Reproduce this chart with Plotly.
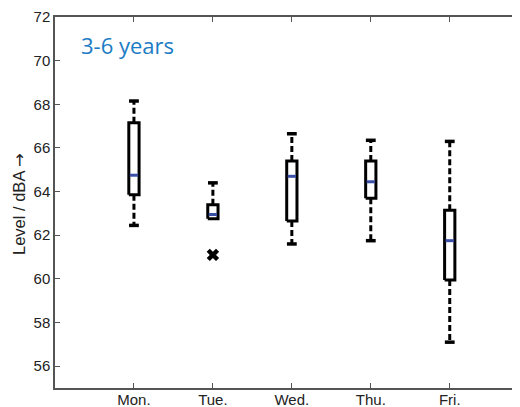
import plotly.graph_objects as go

days = ["Mon.", "Tue.", "Wed.", "Thu.", "Fri."]
lower_whisker = [62.45, 62.75, 61.6, 61.75, 57.1]
q1 = [63.85, 62.75, 62.65, 63.7, 59.95]
median = [64.75, 62.95, 64.7, 64.45, 61.75]
q3 = [67.15, 63.4, 65.4, 65.4, 63.15]
upper_whisker = [68.15, 64.4, 66.65, 66.35, 66.3]
outlier_day = ["Tue."]
outlier_value = [61.1]
y_ticks = [56, 58, 60, 62, 64, 66, 68, 70, 72]

pos = {d: i + 1 for i, d in enumerate(days)}
hw = 0.065  # half box width in category units

fig = go.Figure()
for i, d in enumerate(days):
    x0 = pos[d]
    fig.add_trace(go.Scatter(x=[x0, x0], y=[q3[i], upper_whisker[i]], mode="lines",
                             line=dict(color="black", width=3, dash="6px,3px"), showlegend=False, hoverinfo="skip"))
    if lower_whisker[i] < q1[i]:
        fig.add_trace(go.Scatter(x=[x0, x0], y=[q1[i], lower_whisker[i]], mode="lines",
                                 line=dict(color="black", width=3, dash="6px,3px"), showlegend=False, hoverinfo="skip"))
    caps_y = [upper_whisker[i]] + ([lower_whisker[i]] if lower_whisker[i] < q1[i] else [])
    fig.add_trace(go.Scatter(x=[x0] * len(caps_y), y=caps_y, mode="markers",
                             marker=dict(symbol="line-ew", size=7, line=dict(color="black", width=3.5)),
                             showlegend=False, hoverinfo="skip"))
    fig.add_trace(go.Scatter(x=[x0 - hw, x0 + hw, x0 + hw, x0 - hw, x0 - hw],
                             y=[q1[i], q1[i], q3[i], q3[i], q1[i]], mode="lines",
                             fill="toself", fillcolor="white",
                             line=dict(color="black", width=3), showlegend=False, hoverinfo="skip"))
    fig.add_trace(go.Scatter(x=[x0 - hw + 0.012, x0 + hw - 0.012], y=[median[i], median[i]], mode="lines",
                             line=dict(color="#3a4fa6", width=3), showlegend=False, hoverinfo="skip"))

fig.add_trace(go.Scatter(x=[pos[d] for d in outlier_day], y=outlier_value, mode="markers",
                         marker=dict(symbol="x", size=11, color="black", line=dict(width=0)),
                         showlegend=False, hoverinfo="skip"))

axis_font = dict(family="Liberation Sans, Arial, sans-serif", size=15, color="#222222")
# page body has an 8px margin; plot area target: x 55..520, y 17..388 in window pixels
fig.update_layout(
    width=512, height=399,
    margin=dict(l=47, r=0, t=9, b=19, autoexpand=False),
    paper_bgcolor="white", plot_bgcolor="white",
    xaxis=dict(range=[0, 5.89], tickmode="array", tickvals=[pos[d] for d in days], ticktext=days,
               showgrid=False, zeroline=False, showline=True, linecolor="#555555", linewidth=1.5,
               mirror="ticks", ticks="inside", ticklen=5, tickcolor="#555555", tickwidth=1.2,
               tickfont=axis_font, automargin=False, ticklabelstandoff=-3),
    yaxis=dict(range=[55, 72], tickmode="array", tickvals=y_ticks,
               showgrid=False, zeroline=False, showline=True, linecolor="#555555", linewidth=1.5,
               mirror=False, ticks="inside", ticklen=5, tickcolor="#555555", tickwidth=1.2,
               tickfont=axis_font, automargin=False),
    annotations=[
        dict(text="3-6 years", xref="paper", yref="paper", x=(79 - 55) / 465, y=(388 - 45) / 371,
             xanchor="left", yanchor="middle", showarrow=False,
             font=dict(family="Open Sans, sans-serif", size=22, color="#1b7cc4")),
        dict(text='Level / dBA <span style="font-family:DejaVu Sans">→</span>', xref="paper", yref="paper",
             x=(19 - 55) / 465, y=(388 - 204) / 371,
             xanchor="center", yanchor="middle", showarrow=False, textangle=-90,
             font=dict(family="Liberation Sans, Arial, sans-serif", size=16.5, color="#222222")),
    ],
)
fig.write_html("out.html")
